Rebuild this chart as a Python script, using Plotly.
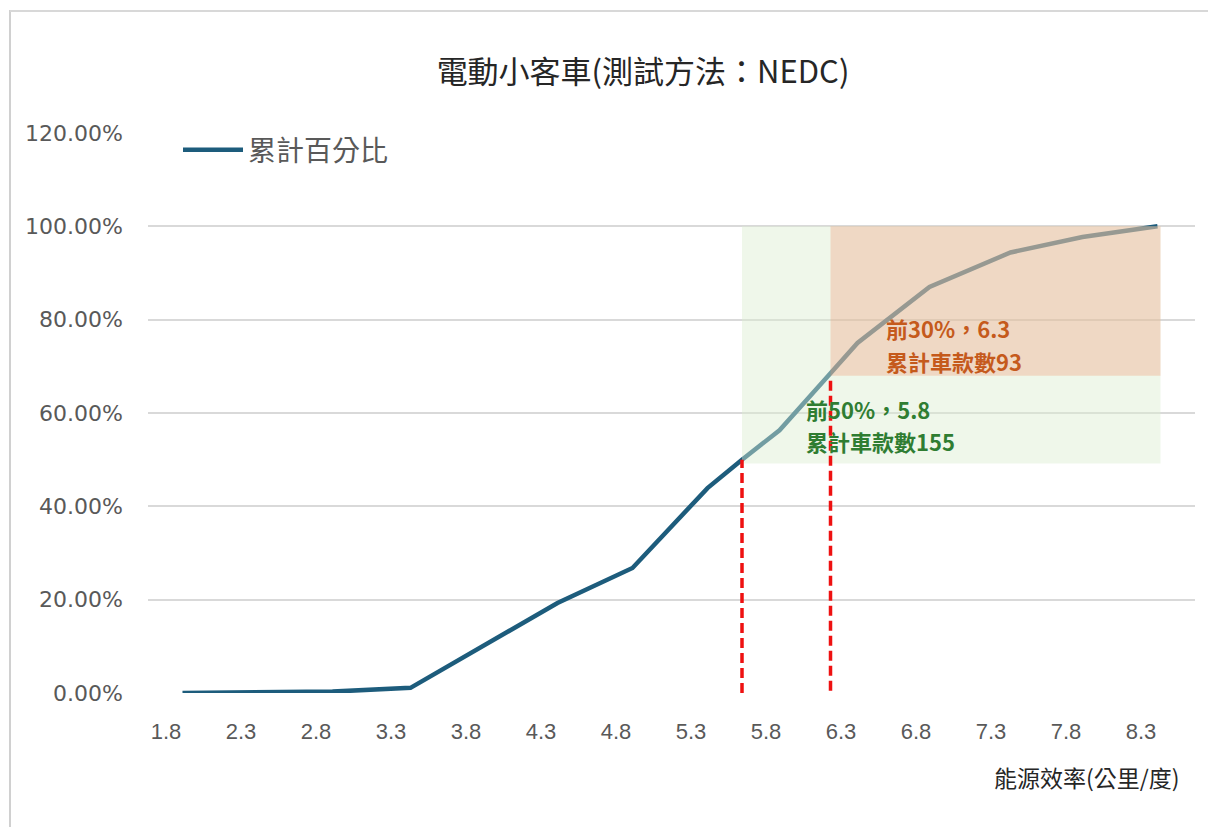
import plotly.graph_objects as go

# Energy efficiency (km/kWh) and cumulative share of models
efficiency = [1.91, 2.41, 2.91, 3.43, 3.89, 4.41, 4.91, 5.41, 5.64, 5.89, 6.23, 6.41, 6.89, 7.43, 7.91, 8.41]
cum_share = [0.000, 0.001, 0.003, 0.011, 0.096, 0.193, 0.268, 0.439, 0.500, 0.563, 0.685, 0.750, 0.870, 0.944, 0.977, 1.000]

x_ticks = [1.8, 2.3, 2.8, 3.3, 3.8, 4.3, 4.8, 5.3, 5.8, 6.3, 6.8, 7.3, 7.8, 8.3]
x_tick_labels = ["1.8", "2.3", "2.8", "3.3", "3.8", "4.3", "4.8", "5.3", "5.8", "6.3", "6.8", "7.3", "7.8", "8.3"]
y_ticks = [0, 0.2, 0.4, 0.6, 0.8, 1.0, 1.2]

# Highlighted thresholds: (efficiency, cumulative share)
top50 = (5.64, 0.50)
top30 = (6.23, 0.68)
band_end = 8.43

top30_lines = ["前30%，6.3", "累計車款數93"]
top50_lines = ["前50%，5.8", "累計車款數155"]

W, H = 1208, 827
L, R, T, B = 148, 1195, 133, 693


def px_x(p):
    return (p - L) / (R - L)


def px_y(p):
    return (B - p) / (B - T)


fig = go.Figure()
fig.add_trace(go.Scatter(
    x=efficiency, y=cum_share, mode="lines", name="累計百分比",
    line=dict(color="#1d5c7c", width=4.5),
))

shapes = [
    # green band: top 50%
    dict(type="rect", xref="x", yref="y", x0=top50[0], x1=band_end, y0=top50[1] - 0.008, y1=1.0,
         fillcolor="rgba(220,238,208,0.45)", line=dict(width=0), layer="above"),
    # orange band: top 30%
    dict(type="rect", xref="x", yref="y", x0=top30[0], x1=band_end, y0=top30[1], y1=1.0,
         fillcolor="rgba(238,146,108,0.30)", line=dict(width=0), layer="above"),
    # dashed markers
    dict(type="line", xref="x", yref="y", x0=top50[0], x1=top50[0], y0=0, y1=top50[1],
         line=dict(color="#ee1111", width=3.5, dash="10px,5px"), layer="above"),
    dict(type="line", xref="x", yref="y", x0=top30[0], x1=top30[0], y0=0.005, y1=top30[1],
         line=dict(color="#ee1111", width=3.5, dash="10px,5px"), layer="above"),
    # chart frame edges
    dict(type="line", xref="paper", yref="paper", x0=px_x(10), x1=px_x(10), y0=px_y(10), y1=px_y(827),
         line=dict(color="#d0d0d0", width=2)),
    dict(type="line", xref="paper", yref="paper", x0=px_x(10), x1=px_x(1208), y0=px_y(11), y1=px_y(11),
         line=dict(color="#d8d8d8", width=2)),
]

annotations = []
for text, py in zip(top30_lines, [328, 361]):
    annotations.append(dict(
        xref="paper", yref="paper", x=px_x(884), y=px_y(py), xanchor="left", yanchor="middle",
        text=f"<b>{text}</b>", showarrow=False,
        font=dict(family="Noto Sans CJK TC", size=22, color="#c55a1c")))
for text, py in zip(top50_lines, [409, 441]):
    annotations.append(dict(
        xref="paper", yref="paper", x=px_x(804), y=px_y(py), xanchor="left", yanchor="middle",
        text=f"<b>{text}</b>", showarrow=False,
        font=dict(family="Noto Sans CJK TC", size=22, color="#2f7d32")))
annotations.append(dict(
    xref="paper", yref="paper", x=px_x(1182), y=px_y(777), xanchor="right", yanchor="middle",
    text="能源效率(公里/度)", showarrow=False,
    font=dict(family="Noto Sans CJK TC", size=23, color="#262626")))

fig.update_layout(
    width=W, height=H,
    margin=dict(l=L, r=W - R, t=T, b=H - B),
    paper_bgcolor="white", plot_bgcolor="white",
    title=dict(text="電動小客車(測試方法：NEDC)", x=643 / W, xanchor="center",
               y=1 - 72 / H, yanchor="middle",
               font=dict(family="Noto Sans CJK TC", size=31, color="#262626")),
    xaxis=dict(range=[1.8 - 18 / 150, 1.8 + (R - 166) / 150], tickvals=x_ticks, ticktext=x_tick_labels,
               showgrid=False, zeroline=False, showline=False, ticks="",
               ticklabelstandoff=23,
               tickfont=dict(family="Liberation Sans", size=22, color="#595959")),
    yaxis=dict(range=[0, 1.2], tickvals=y_ticks, tickformat=".2%",
               showgrid=True, gridcolor="#d9d9d9", gridwidth=1.5, zeroline=False, showline=False,
               ticks="", ticklabelstandoff=24,
               tickfont=dict(family="DejaVu Sans", size=22, color="#595959")),
    showlegend=True,
    legend=dict(x=px_x(178), y=px_y(150), xanchor="left", yanchor="middle",
                bgcolor="rgba(0,0,0,0)", itemwidth=60,
                font=dict(family="Noto Sans CJK TC", size=28, color="#595959")),
    shapes=shapes,
    annotations=annotations,
)

fig.write_html("out.html")
